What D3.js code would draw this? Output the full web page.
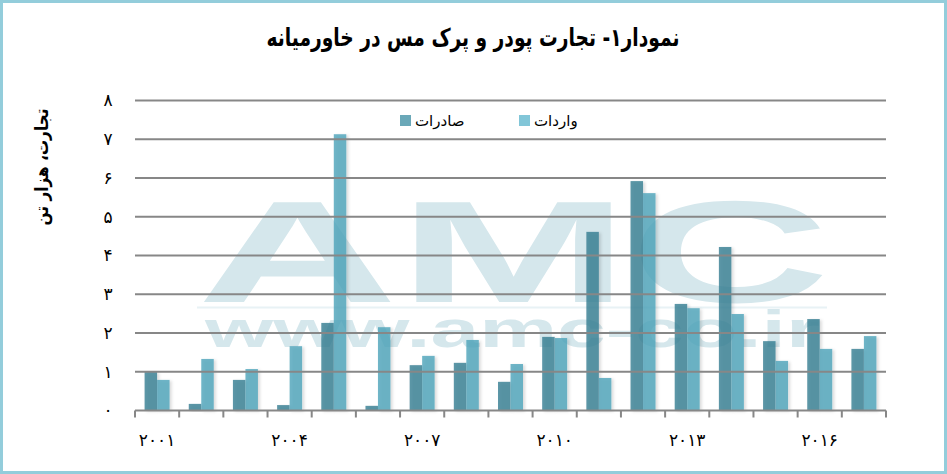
<!DOCTYPE html>
<html><head><meta charset="utf-8">
<script src="https://cdn.jsdelivr.net/npm/d3@7"></script>
<style>
html,body{margin:0;padding:0;background:#fff;}
svg{display:block;}
</style></head>
<body>
<svg id="chart" width="947" height="474"></svg>
<script>
// ---- data ----
const years = [2001,2002,2003,2004,2005,2006,2007,2008,2009,2010,2011,2012,2013,2014,2015,2016,2017];
const exportsK = [1.00,0.17,0.79,0.14,2.26,0.12,1.17,1.23,0.74,1.90,4.61,5.92,2.75,4.22,1.79,2.36,1.59];
const importsK = [0.79,1.33,1.07,1.66,7.13,2.15,1.41,1.82,1.20,1.87,0.84,5.61,2.64,2.49,1.28,1.59,1.92];
const seriesNames = ["صادرات","واردات"];
const labeledYears = [2001,2004,2007,2010,2013,2016];
const yTicks = [0,1,2,3,4,5,6,7,8];
const titleText = "نمودار۱- تجارت پودر و پرک مس در خاورمیانه";
const yTitleText = "تجارت، هزار تن";

const colors = ["#367d91","#4ea4ba"];
const legendColors = ["#6aa8b8","#82c6d8"];
const faDigits = s => String(s).replace(/[0-9]/g, d => "۰۱۲۳۴۵۶۷۸۹"[+d]);

const svg = d3.select("#chart");
const W = 947, H = 474;
const FONT = "'DejaVu Sans', 'Noto Sans', sans-serif";

// border
svg.append("rect").attr("x",1.5).attr("y",1.5).attr("width",W-3).attr("height",H-3)
  .attr("fill","#fff").attr("stroke","#93cddb").attr("stroke-width",3);

const x0 = d3.scaleBand().domain(years).range([135,886]).paddingInner(0.434).paddingOuter(0.217);
const x1 = d3.scaleBand().domain([0,1]).range([0,x0.bandwidth()]);
const y = d3.scaleLinear().domain([0,8]).range([410.5,100.5]);

// watermark
const wm = svg.append("g").attr("fill","#d5e7ec").style("pointer-events","none");
wm.append("text").attr("x",197).attr("y",302).attr("font-family","'Liberation Sans', Arial, sans-serif")
  .attr("font-weight","bold").attr("font-size",145).attr("textLength",633)
  .attr("lengthAdjust","spacingAndGlyphs").text("AMC");
wm.append("rect").attr("x",197).attr("y",306.5).attr("width",630).attr("height",2).attr("fill","#e8f2f5");
wm.append("text").attr("x",205).attr("y",347).attr("font-family","'Liberation Sans', Arial, sans-serif")
  .attr("font-weight","bold").attr("font-size",52).attr("textLength",615)
  .attr("lengthAdjust","spacingAndGlyphs").text("www.amc-co.ir");

// shadow filter
const defs = svg.append("defs");
const f = defs.append("filter").attr("id","sh").attr("x","-30%").attr("y","-5%").attr("width","170%").attr("height","115%");
f.append("feDropShadow").attr("dx",2).attr("dy",1).attr("stdDeviation",1.5).attr("flood-color","#000").attr("flood-opacity",0.18);

// bars
const data = years.map((yr,i)=>({yr, vals:[exportsK[i], importsK[i]]}));
const g = svg.append("g");
g.selectAll("g.cat").data(data).join("g").attr("class","cat")
  .attr("transform", d=>`translate(${x0(d.yr)},0)`)
  .selectAll("rect").data(d=>d.vals.map((v,k)=>({v,k}))).join("rect")
  .attr("x", d=>x1(d.k)).attr("width", x1.bandwidth())
  .attr("y", d=>y(d.v)).attr("height", d=>y(0)-y(d.v))
  .attr("fill", d=>colors[d.k]).attr("fill-opacity",0.8).attr("filter","url(#sh)");

// gridlines
const grid = svg.append("g");
grid.selectAll("line").data(yTicks.filter(t=>t>0)).join("line")
  .attr("x1",135).attr("x2",886).attr("y1",d=>y(d)).attr("y2",d=>y(d))
  .attr("stroke","#878787").attr("stroke-width",2);

// y axis labels
svg.append("g").selectAll("text").data(yTicks).join("text")
  .attr("x",108).attr("y",d=>y(d)).attr("dy","0.35em").attr("text-anchor","middle")
  .attr("font-family",FONT).attr("font-size",17).attr("fill","#000")
  .text(d=>faDigits(d));

// x axis
const step = x0.step();
const xStart = x0.range()[0];
const ax = svg.append("g");
ax.append("line").attr("x1",xStart).attr("x2",x0.range()[1]).attr("y1",y(0)).attr("y2",y(0))
  .attr("stroke","#878787").attr("stroke-width",2);
ax.selectAll("line.tk").data(d3.range(years.length+1)).join("line").attr("class","tk")
  .attr("x1",i=>xStart+i*step).attr("x2",i=>xStart+i*step)
  .attr("y1",y(0)).attr("y2",y(0)+7).attr("stroke","#878787").attr("stroke-width",2);
ax.selectAll("text").data(labeledYears).join("text")
  .attr("x",d=>x0(d)+x0.bandwidth()/2).attr("y",440).attr("dy","0.35em").attr("text-anchor","middle")
  .attr("font-family",FONT).attr("font-size",17).attr("fill","#000")
  .text(d=>faDigits(d));

// helper: condense text horizontally to a target length, keep its height
function condense(sel, target, fs, tx, ty, rot){
  sel.attr("font-size",fs);
  const w = sel.node().getComputedTextLength();
  const s = w>0 ? Math.min(1, target/w) : 1;
  sel.attr("transform",`translate(${tx},${ty}) rotate(${rot}) scale(${s},1)`);
}

// title
const title = svg.append("text").attr("x",0).attr("y",0).attr("text-anchor","middle")
  .attr("font-family",FONT).attr("font-weight","bold").attr("fill","#000").text(titleText);
condense(title, 413, 25, 473, 46, 0);

// y title
const yt = svg.append("text").attr("x",0).attr("y",0).attr("text-anchor","middle")
  .attr("font-family",FONT).attr("font-weight","bold").attr("fill","#000").text(yTitleText);
condense(yt, 117, 18, 48, 167, -90);

// legend
const lg = svg.append("g");
const legPos = [{sx:400, tx:415},{sx:519, tx:534}];
seriesNames.forEach((n,k)=>{
  lg.append("rect").attr("x",legPos[k].sx).attr("y",115).attr("width",11).attr("height",11).attr("fill",legendColors[k]);
  lg.append("text").attr("x",legPos[k].tx).attr("y",126).attr("text-anchor","start")
    .attr("font-family",FONT).attr("fill","#000").attr("font-size",15).text(n);
});
</script>
</body></html>
